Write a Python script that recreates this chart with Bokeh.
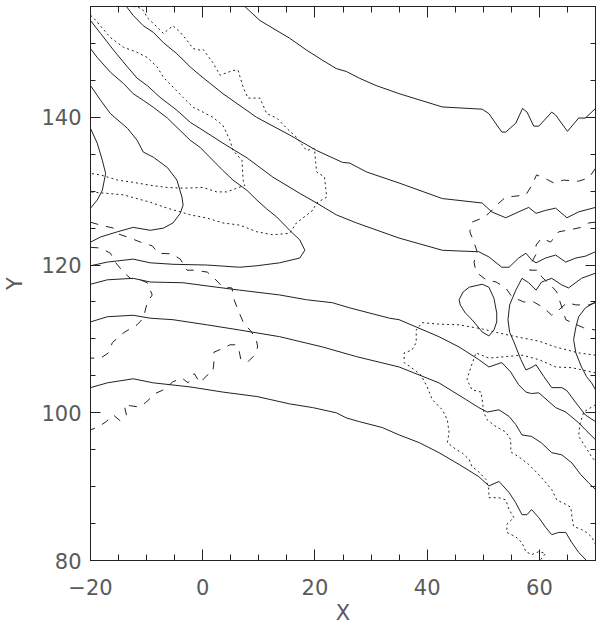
from bokeh.plotting import figure
from bokeh.models import LinearAxis, FixedTicker, Range1d, CustomLabelingPolicy
from bokeh.embed import file_html
from bokeh.resources import INLINE

# ---------------- solid contours ----------------
l1_x = [7.5, 10.2, 15.5, 18.5, 21.4, 23.8, 25.6, 27.9, 30.9, 35.0, 42.7, 49.8, 51.0, 53.3, 54.0, 55.8, 57.0, 57.8, 59.0, 59.9, 62.2, 62.9, 65.0, 67.0, 68.2, 70.0]
l1_y = [155.0, 153.1, 150.7, 149.1, 147.7, 146.6, 146.2, 145.3, 144.3, 143.2, 141.4, 141.1, 140.5, 138.0, 138.0, 139.2, 141.2, 140.7, 138.8, 138.8, 140.7, 140.3, 138.1, 139.9, 139.9, 141.2]

l2_x = [-13.6, -12.4, -10.6, -8.8, -7.0, -4.6, -2.2, -0.5, 3.6, 9.6, 15.5, 20.3, 24.9, 26.2, 29.2, 35.0, 42.7, 49.8, 51.5, 54.0, 56.3, 58.1, 59.4, 61.1, 62.9, 64.9, 67.0, 70.0]
l2_y = [155.0, 153.8, 152.4, 151.5, 150.1, 148.6, 146.8, 145.7, 143.2, 140.0, 137.6, 135.5, 133.9, 133.8, 132.6, 131.1, 129.0, 128.4, 127.2, 126.4, 127.2, 127.8, 127.0, 127.4, 127.7, 126.4, 127.2, 127.8]

l3_x = [-20.0, -18.2, -15.9, -13.4, -11.7, -9.9, -7.6, -4.6, -2.2, -0.5, 3.6, 7.9, 12.5, 17.3, 20.3, 23.8, 27.4, 35.0, 42.7, 45.7, 49.2, 51.0, 53.3, 54.6, 56.3, 57.6, 58.6, 59.4, 61.1, 62.9, 64.7, 66.5, 68.2, 70.0]
l3_y = [153.1, 151.35, 149.1, 146.8, 145.3, 144.3, 142.7, 140.95, 139.3, 138.5, 136.5, 134.5, 131.9, 129.7, 128.4, 126.8, 125.7, 123.65, 122.0, 121.9, 121.8, 121.1, 119.7, 119.7, 120.95, 121.6, 120.7, 120.3, 120.95, 121.35, 120.4, 120.95, 121.2, 121.8]

nose_x = [-20.0, -18.8, -16.45, -14.15, -12.4, -10.6, -8.8, -6.3, -4.0, -2.25, -0.5, 3.6, 5.4, 7.9, 9.65, 11.4, 13.2, 15.5, 17.3, 18.2, 17.3, 13.7, 9.65, 6.6, 0.8, -5.3, -9.35, -12.4, -17.0, -20.0]
nose_y = [149.3, 148.1, 146.1, 144.6, 143.2, 142.3, 141.35, 139.9, 138.2, 136.9, 135.95, 132.8, 131.5, 130.1, 128.8, 127.6, 126.5, 124.7, 123.4, 122.0, 120.95, 120.3, 119.9, 119.7, 120.0, 120.1, 120.3, 120.8, 120.4, 119.9]

vee_x = [-20.0, -18.2, -16.45, -13.4, -11.7, -10.6, -8.8, -6.3, -4.6, -3.7, -3.5, -4.0, -5.3, -7.0, -9.35, -12.4, -15.2, -18.2, -20.0]
vee_y = [144.3, 142.3, 140.5, 138.5, 136.9, 135.3, 134.6, 133.2, 131.5, 129.2, 128.1, 127.0, 125.7, 125.0, 124.7, 125.1, 124.5, 123.8, 123.1]

bulge_x = [-20.0, -18.8, -17.9, -17.3, -17.9, -18.8, -20.0]
bulge_y = [138.5, 136.5, 134.2, 132.4, 130.1, 128.8, 127.7]

c_x = [-20.0, -17.0, -12.4, -9.35, -3.5, 2.5, 6.6, 13.7, 18.5, 23.1, 26.2, 33.3, 35.0, 42.1, 45.7, 49.2, 51.0, 53.3, 54.9, 56.3, 57.6, 58.6, 59.9, 61.7, 62.9, 64.7, 67.0, 68.2, 70.0]
c_y = [117.4, 118.0, 118.2, 117.7, 117.6, 117.0, 116.6, 115.95, 115.3, 114.9, 114.2, 112.8, 112.6, 110.3, 108.9, 107.2, 106.2, 106.8, 105.5, 103.8, 102.8, 102.6, 102.7, 101.5, 100.7, 100.1, 98.65, 97.7, 96.35]

d_x = [-20.0, -17.0, -12.4, -9.35, -5.3, 0.8, 6.6, 13.7, 21.4, 27.4, 35.0, 42.1, 46.9, 49.2, 50.7, 52.8, 54.6, 55.8, 56.9, 58.6, 60.4, 62.2, 64.0, 65.8, 67.4, 68.8, 70.0]
d_y = [112.3, 113.0, 113.2, 112.8, 112.6, 111.9, 111.2, 110.3, 108.9, 107.6, 106.2, 104.05, 101.8, 100.7, 100.1, 100.4, 99.5, 98.4, 97.0, 96.8, 95.9, 94.6, 94.3, 93.2, 91.6, 90.5, 89.6]

e_x = [-20.0, -17.0, -12.4, -8.8, -2.25, 3.6, 9.65, 12.0, 15.5, 19.6, 23.8, 25.6, 27.9, 32.0, 35.0, 38.6, 42.1, 45.7, 49.2, 51.0, 52.8, 54.6, 55.8, 56.9, 57.8, 58.6, 59.9, 61.1, 62.2, 63.45, 64.7, 65.8, 67.0, 68.4]
e_y = [103.4, 104.05, 104.6, 104.05, 103.5, 102.8, 102.2, 101.8, 101.2, 100.7, 100.0, 99.3, 98.8, 98.0, 97.0, 95.95, 94.6, 93.0, 91.35, 90.1, 90.7, 89.2, 87.8, 86.2, 86.2, 86.9, 85.8, 84.5, 83.5, 83.8, 83.8, 82.4, 81.1, 80.0]

g_x = [70.0, 67.5, 65.2, 64.0, 62.2, 60.4, 59.4, 58.1, 56.9, 55.8, 54.7, 54.4, 54.7, 55.45, 56.7, 57.6, 58.5, 59.4, 60.8, 62.2, 64.0, 64.9, 66.5, 68.2, 70.0]
g_y = [118.9, 118.2, 116.9, 117.3, 118.2, 117.7, 116.6, 117.6, 118.2, 116.6, 114.6, 112.6, 110.9, 109.6, 107.2, 105.8, 106.1, 106.5, 104.9, 103.4, 103.4, 103.0, 101.35, 99.7, 98.8]

h_x = [70.0, 68.2, 67.0, 66.5, 66.1, 66.5, 67.5, 68.4, 69.3, 70.0]
h_y = [115.0, 114.2, 113.0, 111.6, 109.9, 108.1, 106.2, 104.9, 104.05, 103.1]

loop_x = [45.7, 46.4, 47.5, 49.8, 51.0, 51.9, 52.4, 52.4, 51.9, 51.0, 49.8, 48.0, 46.8, 45.9, 45.7]
loop_y = [115.3, 116.35, 117.0, 117.4, 117.0, 115.5, 113.5, 112.3, 111.2, 110.4, 110.95, 112.6, 113.5, 114.6, 115.3]

# ---------------- dotted contours ----------------
p1_x = [-12.4, -11.5, -10.6, -9.9, -8.1, -7.0, -5.3, -4.0, -2.8, -1.7, -0.5, 0.06, 1.8, 3.1, 5.4, 6.3, 7.2, 8.05, 10.2, 11.4, 13.2, 15.0, 16.7, 18.5, 19.9, 20.3, 21.7, 22.1, 20.3, 19.6, 16.7, 15.5, 12.5, 9.65, 6.6, 3.6, 0.8, -2.25, -4.0, -6.3, -9.35, -14.15, -20.0]
p1_y = [155.0, 154.9, 154.5, 153.5, 152.2, 151.35, 152.4, 151.5, 150.4, 149.3, 149.1, 149.2, 147.4, 145.7, 146.35, 146.35, 144.1, 142.6, 142.6, 140.5, 139.9, 138.5, 137.3, 135.5, 135.8, 132.6, 131.9, 129.2, 128.4, 127.4, 125.7, 124.3, 124.1, 124.5, 125.4, 125.7, 126.35, 126.8, 127.2, 127.7, 128.5, 129.5, 129.9]

p2_x = [-20.0, -19.5, -16.45, -14.15, -11.7, -9.9, -8.1, -7.0, -5.3, -3.5, -1.7, 0.06, 1.8, 3.6, 4.85, 5.4, 7.0, 7.2, 7.5, 4.3, 2.5, 0.06, -3.5, -6.3, -9.35, -12.4, -15.2, -18.2, -20.0]
p2_y = [153.8, 153.5, 150.8, 149.5, 148.8, 148.1, 146.8, 145.4, 144.1, 142.7, 141.35, 140.7, 140.0, 138.9, 136.9, 135.5, 134.2, 131.5, 130.8, 129.9, 129.9, 130.5, 130.4, 130.5, 130.8, 131.2, 131.5, 132.2, 132.4]

p3_x = [70.0, 67.0, 62.9, 59.9, 55.8, 52.8, 49.8, 45.7, 42.1, 39.1, 38.05, 38.05, 37.3, 35.9, 35.9, 37.2, 38.9, 40.0, 40.9, 42.7, 43.6, 43.9, 43.6, 45.2, 46.2, 47.5, 48.0, 49.2, 50.5, 51.0, 51.0, 52.8, 54.0, 54.6, 55.45, 54.2, 54.2, 55.8, 56.9, 57.6, 58.65, 59.9, 61.1, 60.1]
p3_y = [107.8, 108.1, 108.9, 109.7, 110.3, 110.8, 111.35, 111.9, 112.0, 112.2, 111.2, 109.5, 108.5, 108.1, 106.8, 106.1, 105.1, 103.5, 101.8, 100.4, 99.05, 97.3, 95.95, 95.0, 94.6, 93.65, 92.7, 92.0, 90.95, 89.6, 88.5, 88.5, 88.2, 86.9, 85.8, 84.9, 83.8, 83.2, 82.4, 81.2, 80.8, 81.2, 80.95, 80.0]

p4_x = [70.0, 65.8, 62.9, 59.9, 56.9, 54.0, 51.0, 48.7, 47.8, 47.1, 48.0, 49.6, 49.8, 50.1, 50.7, 52.3, 54.0, 54.9, 54.9, 56.3, 58.1, 59.4, 60.4, 62.2, 63.1, 64.7, 65.6, 65.8, 66.1, 67.5, 68.4, 69.3, 70.0]
p4_y = [105.4, 106.1, 106.2, 107.2, 107.8, 107.6, 107.4, 108.1, 106.2, 104.5, 103.1, 102.8, 101.8, 100.0, 99.05, 98.1, 97.4, 96.35, 94.7, 94.05, 93.0, 92.0, 91.2, 89.6, 88.2, 87.6, 87.2, 85.9, 84.6, 84.2, 83.8, 83.2, 82.2]

p5_x = [70.0, 67.9, 67.2, 67.0, 68.2, 69.3, 70.0]
p5_y = [101.1, 100.1, 98.4, 96.8, 95.4, 94.05, 93.4]

# ---------------- dashed contours ----------------
q1_x = [-20.0, -18.2, -15.9, -15.0, -12.9, -11.1, -9.0, -7.9, -5.45, -4.0, -2.8, -1.7, 0.8, 2.2, 3.6, 5.2, 5.6, 6.3, 7.2, 8.4, 9.5, 9.8, 9.1, 8.05, 6.8, 6.45, 5.9, 4.85, 3.4, 2.0, 2.0, 1.8, 0.8, -0.5, -1.5, -2.6, -3.7, -5.3, -7.0, -8.5, -10.2, -11.5, -12.9, -14.0, -13.6, -14.7, -15.9, -17.2, -18.8, -20.0]
q1_y = [125.8, 125.4, 125.0, 124.2, 123.65, 123.1, 122.6, 121.6, 121.5, 120.8, 119.3, 119.3, 119.05, 118.1, 117.0, 116.9, 115.3, 113.9, 112.3, 111.2, 110.1, 108.9, 107.7, 106.9, 107.2, 108.5, 109.2, 109.2, 108.65, 108.2, 106.9, 105.5, 105.1, 104.05, 105.3, 104.05, 104.7, 104.2, 103.1, 102.6, 101.35, 100.8, 100.95, 101.1, 99.7, 98.9, 99.7, 98.8, 98.0, 97.7]

q2_x = [-20.0, -18.2, -16.45, -15.6, -14.15, -12.9, -11.1, -9.9, -9.0, -9.9, -10.6, -11.7, -13.3, -14.15, -16.1, -16.8, -18.2, -20.0]
q2_y = [122.4, 122.3, 121.6, 120.4, 119.05, 118.2, 118.0, 117.6, 115.95, 114.9, 112.8, 111.9, 111.2, 110.8, 109.5, 108.1, 107.4, 107.4]

r1_x = [70.0, 68.8, 67.0, 64.3, 62.6, 60.8, 59.5, 58.65, 57.6, 55.45, 54.0, 52.8, 51.0, 49.8, 48.0, 47.6, 48.35, 48.9, 48.35, 48.7, 50.5, 52.3, 54.0, 55.1, 57.2, 59.0, 60.8, 62.2, 63.45, 64.9, 66.5, 68.8, 70.0]
r1_y = [133.1, 131.8, 131.35, 131.5, 131.1, 131.8, 132.2, 130.8, 129.5, 129.3, 129.2, 128.4, 127.0, 126.35, 125.8, 124.5, 123.1, 121.8, 120.4, 119.05, 118.0, 117.7, 116.9, 115.7, 115.0, 115.0, 114.2, 113.2, 113.9, 114.9, 114.6, 114.6, 114.9]

r2_x = [70.0, 68.8, 67.5, 64.9, 63.45, 62.0, 60.4, 59.4, 59.5, 58.65, 58.3, 59.9, 60.4, 62.0, 63.1, 64.0, 64.7, 65.8, 67.9, 70.0]
r2_y = [125.8, 125.7, 125.1, 124.7, 124.5, 123.1, 123.65, 122.7, 121.6, 120.4, 119.3, 119.3, 118.4, 117.3, 116.35, 114.3, 112.6, 112.2, 111.5, 111.2]

# ---------------- axes ----------------
x_major = [-20, 0, 20, 40, 60]
x_minor = list(range(-20, 71, 5))
y_major = [80, 100, 120, 140]
y_minor = list(range(80, 156, 5))

solid = [(l1_x, l1_y), (l2_x, l2_y), (l3_x, l3_y), (nose_x, nose_y), (vee_x, vee_y),
         (bulge_x, bulge_y), (c_x, c_y), (d_x, d_y), (e_x, e_y), (g_x, g_y),
         (h_x, h_y), (loop_x, loop_y)]
dotted = [(p1_x, p1_y), (p2_x, p2_y), (p3_x, p3_y), (p4_x, p4_y), (p5_x, p5_y)]
dashed = [(q1_x, q1_y), (q2_x, q2_y), (r1_x, r1_y), (r2_x, r2_y)]

FONT = "DejaVu Sans"
INK = "#222222"
TXT = "#5a5a5a"

p = figure(width=600, height=627, x_range=Range1d(-20, 70), y_range=Range1d(80, 155),
           output_backend="svg", toolbar_location=None,
           min_border_left=90, min_border_right=3, min_border_top=6, min_border_bottom=66,
           x_axis_label="X", y_axis_label="Y")
p.xgrid.grid_line_color = None
p.ygrid.grid_line_color = None
p.outline_line_color = INK
p.outline_line_width = 1

xt = FixedTicker(ticks=x_major, minor_ticks=x_minor)
yt = FixedTicker(ticks=y_major, minor_ticks=y_minor)

def style(ax, maj, mino):
    ax.major_tick_in = maj
    ax.major_tick_out = 0
    ax.minor_tick_in = mino
    ax.minor_tick_out = 0
    ax.axis_line_color = INK
    ax.major_tick_line_color = INK
    ax.minor_tick_line_color = INK

xa = p.xaxis[0]
xa.ticker = xt
style(xa, 11, 6)
xa.major_label_text_font = FONT
xa.major_label_text_font_size = "21px"
xa.major_label_text_color = TXT
xa.major_label_standoff = 18
xa.axis_label_text_font = FONT
xa.axis_label_text_font_size = "21px"
xa.axis_label_text_font_style = "normal"
xa.axis_label_text_color = TXT
xa.axis_label_standoff = 3

ya = p.yaxis[0]
ya.ticker = yt
style(ya, 10, 5)
ya.major_label_text_font = FONT
ya.major_label_text_font_size = "21px"
ya.major_label_text_color = TXT
ya.major_label_standoff = 9
ya.axis_label_text_font = FONT
ya.axis_label_text_font_size = "21px"
ya.axis_label_text_font_style = "normal"
ya.axis_label_text_color = TXT
ya.axis_label_standoff = 11

top = LinearAxis(ticker=xt, major_label_text_font_size="1px", major_label_standoff=0,
                 major_label_policy=CustomLabelingPolicy(code="return []"))
style(top, 11, 6)
p.add_layout(top, "above")
right = LinearAxis(ticker=yt, major_label_text_font_size="1px", major_label_standoff=0,
                   major_label_policy=CustomLabelingPolicy(code="return []"))
style(right, 10, 5)
p.add_layout(right, "right")

for xs, ys in solid:
    p.line(xs, ys, line_color=INK, line_width=1)
for xs, ys in dotted:
    p.line(xs, ys, line_color=INK, line_width=1, line_dash="2 3")
for xs, ys in dashed:
    p.line(xs, ys, line_color=INK, line_width=1, line_dash="8 8")

open("out.html", "w").write(file_html(p, INLINE))
